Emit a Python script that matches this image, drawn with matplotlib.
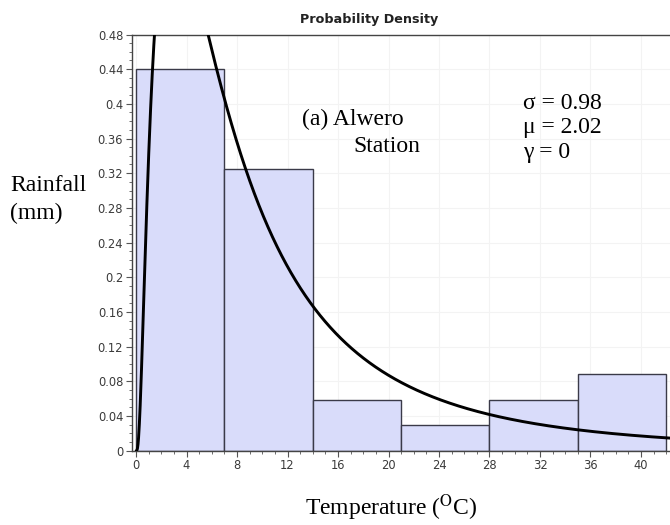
import numpy as np
import matplotlib
matplotlib.use("Agg")
import matplotlib.pyplot as plt
from matplotlib.ticker import MultipleLocator, FixedLocator

# Data
bin_edges = [0, 7, 14, 21, 28, 35, 42]
bar_heights = [0.44, 0.325, 0.058, 0.030, 0.058, 0.088]
sigma = 0.98
mu = 2.02
gamma = 0
x_ticks = [0, 4, 8, 12, 16, 20, 24, 28, 32, 36, 40]
y_ticks = [0, 0.04, 0.08, 0.12, 0.16, 0.2, 0.24, 0.28, 0.32, 0.36, 0.4, 0.44, 0.48]
y_tick_labels = ["0", "0.04", "0.08", "0.12", "0.16", "0.2", "0.24", "0.28",
                 "0.32", "0.36", "0.4", "0.44", "0.48"]

fig = plt.figure(figsize=(6.7, 5.25), dpi=100)
ax = fig.add_axes([131.5 / 670, 1 - 450.5 / 525, (670 - 131.5) / 670, (450.5 - 34.5) / 525])

widths = np.diff(bin_edges)
ax.bar(bin_edges[:-1], bar_heights, width=widths, align="edge",
       color="#d9dcfa", edgecolor="#3a3a48", linewidth=1.0, zorder=2)

# Fitted lognormal density (scaled by bin width) from the stated parameters
bw = widths[0]
xs = np.linspace(0.05, 42.5, 2000)
pdf = bw * np.exp(-(np.log(xs) - mu) ** 2 / (2 * sigma ** 2)) / (xs * sigma * np.sqrt(2 * np.pi))
ax.plot(xs, pdf, color="black", linewidth=2.1, zorder=3)

ax.set_xlim(-0.36, 42.3)
ax.set_ylim(0, 0.48)
ax.xaxis.set_major_locator(FixedLocator(x_ticks))
ax.xaxis.set_minor_locator(MultipleLocator(1))
ax.yaxis.set_major_locator(FixedLocator(y_ticks))
ax.set_yticklabels(y_tick_labels)
ax.yaxis.set_minor_locator(MultipleLocator(0.01))
ax.grid(True, which="major", color="#f3f3f3", linewidth=0.8, zorder=0)
ax.set_axisbelow(True)

tick_family = ["Liberation Sans Narrow", "DejaVu Sans"]
for lab in ax.get_xticklabels() + ax.get_yticklabels():
    lab.set_fontfamily(tick_family)
    lab.set_fontsize(8.3)
    lab.set_color("#3a3a3a")
ax.tick_params(which="major", length=4, width=0.8, color="#555555", pad=2)
ax.tick_params(which="minor", length=2, width=0.6, color="#555555")

for s in ["left", "bottom", "top"]:
    ax.spines[s].set_color("#444444")
    ax.spines[s].set_linewidth(1.0)
ax.spines["right"].set_visible(False)

serif = ["Liberation Serif", "DejaVu Serif"]
fs = 17
fig.text(369 / 670, 1 - 19 / 525, "Probability Density", ha="center", va="center",
         fontsize=9.2, fontweight="bold", family=tick_family, color="#222222")
fig.text(10 / 670, 1 - 185 / 525, "Rainfall", ha="left", va="center", fontsize=fs, family=serif)
fig.text(10 / 670, 1 - 213 / 525, "(mm)", ha="left", va="center", fontsize=fs, family=serif)
fig.text(302 / 670, 1 - 119 / 525, "(a) Alwero", ha="left", va="center", fontsize=fs, family=serif)
fig.text(387 / 670, 1 - 146 / 525, "Station", ha="center", va="center", fontsize=fs, family=serif)
fig.text(523 / 670, 1 - 103 / 525, "σ = %.2f" % sigma, ha="left", va="center", fontsize=fs, family=serif)
fig.text(523 / 670, 1 - 128 / 525, "μ = %.2f" % mu, ha="left", va="center", fontsize=fs, family=serif)
fig.text(523 / 670, 1 - 153 / 525, "γ = %d" % gamma, ha="left", va="center", fontsize=fs, family=serif)
fig.text(305 / 670, 1 - 508 / 525, r"Temperature ($^{\mathrm{O}}$C)", ha="left", va="center",
         fontsize=fs, family=serif, math_fontfamily="stix")

fig.savefig("out.png", dpi=100)
